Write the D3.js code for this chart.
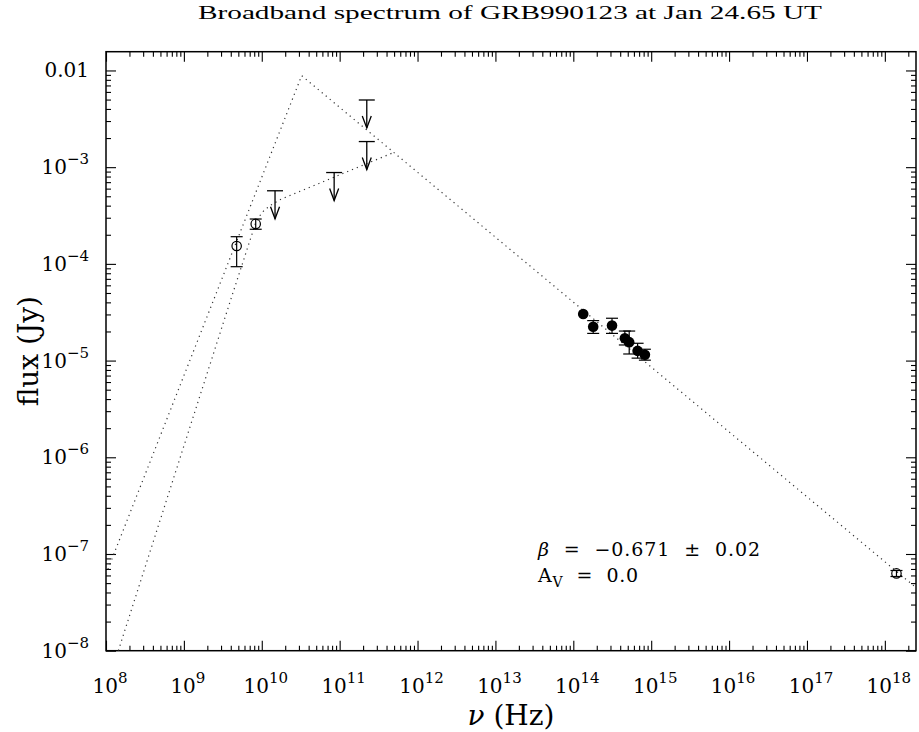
<!DOCTYPE html>
<html>
<head>
<meta charset="utf-8">
<script src="https://cdn.jsdelivr.net/npm/d3@7"></script>
<style>
body { margin: 0; background: #fff; }
text { font-family: "DejaVu Serif", "Liberation Serif", serif; fill: #000; white-space: pre; }
</style>
</head>
<body>
<div id="chart"></div>
<script>
// model curves, vertices [nu (Hz), flux (Jy)]
var modelA = [[1e8, 6.2e-8], [3.25e10, 8.83e-3], [2.5e18, 4.5e-8]];
var modelB = [[1.44e8, 1e-8], [4.11e9, 4.58e-5], [8.32e9, 2.63e-4], [1.0e10, 3.39e-4],
              [1.26e10, 3.98e-4], [1.78e10, 4.68e-4], [4.85e11, 1.41e-3]];

// radio detections (open circles)
var radioNu   = [4.76e9, 8.36e9];
var radioFlux = [1.53e-4, 2.59e-4];
var radioLo   = [9.35e-5, 2.28e-4];
var radioHi   = [1.91e-4, 2.91e-4];

// radio / mm upper limits
var limNu   = [1.48e10, 8.5e10, 2.23e11, 2.23e11];
var limFlux = [5.7e-4, 8.8e-4, 4.95e-3, 1.84e-3];

// optical / near-IR (filled circles)
var optNu   = [1.34e14, 1.80e14, 3.14e14, 4.59e14, 5.22e14, 6.69e14, 8.3e14];
var optFlux = [3.03e-5, 2.24e-5, 2.30e-5, 1.70e-5, 1.55e-5, 1.26e-5, 1.15e-5];
var optLo   = [null, 1.91e-5, 1.91e-5, 1.45e-5, 1.17e-5, 1.06e-5, 1.01e-5];
var optHi   = [null, 2.59e-5, 2.74e-5, 2.02e-5, 2.02e-5, 1.51e-5, 1.31e-5];

// X-ray (open circle)
var xrayNu   = [1.41e18];
var xrayFlux = [6.3e-8];
var xrayLo   = [5.85e-8];
var xrayHi   = [6.75e-8];

// axis decades
var xDecades = [8, 9, 10, 11, 12, 13, 14, 15, 16, 17, 18];
var yDecades = [-8, -7, -6, -5, -4, -3, -2];

var titleText = "Broadband spectrum of GRB990123 at Jan 24.65 UT";

var W = 919, H = 732;
var pL = 106, pR = 916, pT = 51.7, pB = 650.7;

var svg = d3.select("#chart").append("svg")
	.attr("width", W)
	.attr("height", H);

var x = d3.scaleLog().domain([1e8, Math.pow(10, 18.4)]).range([pL, pR]);
var y = d3.scaleLog().domain([1e-8, Math.pow(10, -1.806)]).range([pB, pT]);

svg.append("clipPath").attr("id", "clip")
	.append("rect")
	.attr("x", pL).attr("y", pT)
	.attr("width", pR - pL).attr("height", pB - pT);

// ticks
var majX = xDecades.map(function(e) { return Math.pow(10, e); });
var majY = yDecades.map(function(e) { return Math.pow(10, e); });
var minX = [], minY = [];
xDecades.forEach(function(e) {
	for (var k = 2; k < 10; k++) {
		var v = k * Math.pow(10, e);
		if (v < x.domain()[1]) minX.push(v);
	}
});
yDecades.forEach(function(e) {
	for (var k = 2; k < 10; k++) {
		var v = k * Math.pow(10, e);
		if (v < y.domain()[1]) minY.push(v);
	}
});

function tickAxis(axis, vals, size, transform) {
	var g = svg.append("g")
		.attr("transform", transform)
		.call(axis.tickValues(vals).tickSize(size).tickFormat(""));
	g.select(".domain").remove();
	g.selectAll("line").attr("stroke", "#000").attr("stroke-width", 1.1);
}
tickAxis(d3.axisBottom(x), majX, -10, "translate(0," + pB + ")");
tickAxis(d3.axisBottom(x), minX, -5, "translate(0," + pB + ")");
tickAxis(d3.axisTop(x), majX, -10, "translate(0," + pT + ")");
tickAxis(d3.axisTop(x), minX, -5, "translate(0," + pT + ")");
tickAxis(d3.axisLeft(y), majY, -10, "translate(" + pL + ",0)");
tickAxis(d3.axisLeft(y), minY, -5, "translate(" + pL + ",0)");
tickAxis(d3.axisRight(y), majY, -10, "translate(" + pR + ",0)");
tickAxis(d3.axisRight(y), minY, -5, "translate(" + pR + ",0)");

svg.append("rect")
	.attr("x", pL).attr("y", pT)
	.attr("width", pR - pL).attr("height", pB - pT)
	.attr("fill", "none")
	.attr("stroke", "#000")
	.attr("stroke-width", 1.5);

// tick labels
xDecades.forEach(function(e) {
	var t = svg.append("text")
		.attr("x", x(Math.pow(10, e)) + 4)
		.attr("y", pB + 42)
		.attr("text-anchor", "middle")
		.style("font-size", "20px");
	t.append("tspan").text("10");
	t.append("tspan").attr("dy", -10).style("font-size", "15px").text(e);
});
yDecades.forEach(function(e) {
	var t = svg.append("text")
		.attr("x", 89)
		.attr("y", y(Math.pow(10, e)) + 7)
		.attr("text-anchor", "end")
		.style("font-size", "20px");
	if (e === -2) {
		t.text("0.01");
	} else {
		t.append("tspan").text("10");
		t.append("tspan").attr("dy", -10).style("font-size", "15px").text("\u2212" + (-e));
	}
});

// model curves
var line = d3.line()
	.x(function(d) { return x(d[0]); })
	.y(function(d) { return y(d[1]); });

var curves = svg.append("g").attr("clip-path", "url(#clip)");
[modelA, modelB].forEach(function(m) {
	curves.append("path")
		.datum(m)
		.attr("d", line)
		.attr("fill", "none")
		.attr("stroke", "#333")
		.attr("stroke-width", 1.2)
		.attr("stroke-dasharray", "1.2,4");
});

// error bars helper
function errBar(xv, lo, hi, cap) {
	var px = x(xv);
	svg.append("line")
		.attr("x1", px).attr("x2", px)
		.attr("y1", y(lo)).attr("y2", y(hi))
		.attr("stroke", "#000").attr("stroke-width", 1.2);
	[lo, hi].forEach(function(v) {
		svg.append("line")
			.attr("x1", px - cap).attr("x2", px + cap)
			.attr("y1", y(v)).attr("y2", y(v))
			.attr("stroke", "#000").attr("stroke-width", 1.2);
	});
}

// radio points
radioNu.forEach(function(nu, i) {
	errBar(nu, radioLo[i], radioHi[i], 6);
	svg.append("circle")
		.attr("cx", x(nu)).attr("cy", y(radioFlux[i]))
		.attr("r", 4.7)
		.attr("fill", "none")
		.attr("stroke", "#000").attr("stroke-width", 1.2);
});

// upper limits
limNu.forEach(function(nu, i) {
	var px = x(nu), py = y(limFlux[i]), tip = py + 28;
	svg.append("line")
		.attr("x1", px - 8).attr("x2", px + 8)
		.attr("y1", py).attr("y2", py)
		.attr("stroke", "#000").attr("stroke-width", 1.3);
	svg.append("line")
		.attr("x1", px).attr("x2", px)
		.attr("y1", py).attr("y2", tip)
		.attr("stroke", "#000").attr("stroke-width", 1.3);
	svg.append("path")
		.attr("d", "M" + (px - 4.5) + "," + (tip - 12) + "L" + px + "," + tip + "L" + (px + 4.5) + "," + (tip - 12))
		.attr("fill", "none")
		.attr("stroke", "#000").attr("stroke-width", 1.3);
});

// optical points
optNu.forEach(function(nu, i) {
	if (optLo[i] !== null) errBar(nu, optLo[i], optHi[i], 6);
});
optNu.forEach(function(nu, i) {
	svg.append("circle")
		.attr("cx", x(nu)).attr("cy", y(optFlux[i]))
		.attr("r", 5.3)
		.attr("fill", "#000");
});

// X-ray point
xrayNu.forEach(function(nu, i) {
	errBar(nu, xrayLo[i], xrayHi[i], 6);
	svg.append("circle")
		.attr("cx", x(nu)).attr("cy", y(xrayFlux[i]))
		.attr("r", 4.7)
		.attr("fill", "none")
		.attr("stroke", "#000").attr("stroke-width", 1.2);
});

// title and axis labels
svg.append("text")
	.attr("x", 510).attr("y", 19)
	.attr("text-anchor", "middle")
	.attr("textLength", 624)
	.attr("lengthAdjust", "spacingAndGlyphs")
	.style("font-family", "Liberation Serif")
	.style("font-size", "19px")
	.text(titleText);

svg.append("text")
	.attr("transform", "translate(38," + ((pT + pB) / 2) + ") rotate(-90)")
	.attr("text-anchor", "middle")
	.style("font-size", "28px")
	.text("flux (Jy)");

var xl = svg.append("text")
	.attr("x", (pL + pR) / 2).attr("y", 725)
	.attr("text-anchor", "middle")
	.style("font-size", "28px");
xl.append("tspan").style("font-style", "italic").text("\u03bd");
xl.append("tspan").text(" (Hz)");

// fit annotation
var a1 = svg.append("text")
	.attr("x", 538).attr("y", 556)
	.attr("textLength", 222)
	.attr("lengthAdjust", "spacing")
	.style("font-size", "19px");
a1.append("tspan").style("font-style", "italic").text("\u03b2");
a1.append("tspan").text("  =  \u22120.671  \u00b1  0.02");

var a2 = svg.append("text")
	.attr("x", 538).attr("y", 582)
	.attr("textLength", 100)
	.attr("lengthAdjust", "spacing")
	.style("font-size", "19px");
a2.append("tspan").text("A");
a2.append("tspan").attr("dy", 5).style("font-size", "14px").text("V");
a2.append("tspan").attr("dy", -5).text("  =  0.0");
</script>
</body>
</html>
